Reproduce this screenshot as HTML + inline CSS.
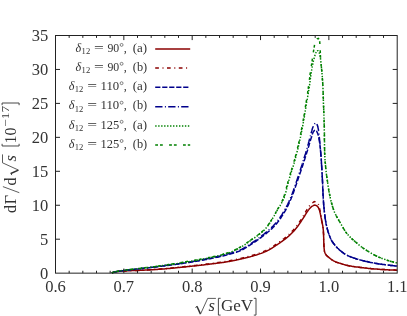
<!DOCTYPE html>
<html><head><meta charset="utf-8"><title>plot</title>
<style>.ls{font-family:"Liberation Serif",serif;}html,body{margin:0;padding:0;background:#fff;}body{width:407px;height:316px;overflow:hidden;position:relative;font-family:"Liberation Serif",serif;}</style>
</head><body>
<svg width="407" height="316" viewBox="0 0 407 316" style="position:absolute;left:0;top:0">
<defs><filter id="gf" x="0" y="0" width="100%" height="100%" filterUnits="userSpaceOnUse"><feOffset dx="0" dy="0"/></filter></defs>
<rect width="407" height="316" fill="#fff"/>
<g fill="none" stroke-width="1.5" stroke-linejoin="round">
<path d="M111.9,273.0 L112.5,272.7 L113.2,272.4 L113.9,272.2 L114.6,272.1 L115.2,271.9 L115.9,271.8 L116.6,271.7 L117.3,271.6 L118.0,271.5 L118.7,271.4 L119.4,271.3 L120.1,271.3 L120.8,271.2 L121.5,271.1 L122.2,271.1 L122.9,271.0 L123.6,271.0 L124.3,271.0 L125.1,270.9 L125.8,270.9 L126.5,270.8 L127.2,270.8 L127.9,270.8 L128.6,270.8 L129.3,270.7 L130.0,270.7 L130.7,270.7 L131.4,270.6 L132.1,270.6 L132.8,270.6 L133.5,270.6 L134.2,270.5 L134.9,270.5 L135.6,270.5 L136.3,270.5 L137.0,270.5 L137.7,270.4 L138.4,270.4 L139.1,270.4 L139.8,270.3 L140.5,270.3 L141.2,270.3 L141.9,270.3 L142.7,270.2 L143.4,270.2 L144.1,270.2 L144.8,270.1 L145.5,270.1 L146.2,270.1 L146.9,270.0 L147.6,270.0 L148.3,269.9 L149.0,269.9 L149.7,269.9 L150.4,269.8 L151.1,269.8 L151.8,269.7 L152.5,269.7 L153.2,269.7 L153.9,269.6 L154.6,269.6 L155.3,269.5 L156.0,269.5 L156.7,269.4 L157.4,269.4 L158.1,269.3 L158.8,269.3 L159.5,269.2 L160.2,269.2 L160.9,269.1 L161.6,269.1 L162.3,269.0 L163.0,269.0 L163.7,268.9 L164.4,268.9 L165.2,268.8 L165.9,268.7 L166.6,268.7 L167.3,268.6 L168.0,268.6 L168.7,268.5 L169.4,268.4 L170.1,268.4 L170.8,268.3 L171.5,268.2 L172.2,268.2 L172.9,268.1 L173.6,268.0 L174.3,268.0 L175.0,267.9 L175.7,267.8 L176.4,267.8 L177.1,267.7 L177.8,267.6 L178.5,267.5 L179.2,267.5 L179.9,267.4 L180.6,267.3 L181.3,267.3 L182.0,267.2 L182.7,267.1 L183.4,267.1 L184.1,267.0 L184.8,266.9 L185.5,266.9 L186.2,266.8 L186.9,266.7 L187.6,266.6 L188.3,266.6 L189.0,266.5 L189.7,266.4 L190.4,266.3 L191.1,266.3 L191.8,266.2 L192.5,266.1 L193.2,266.0 L193.9,266.0 L194.6,265.9 L195.3,265.8 L196.0,265.7 L196.7,265.7 L197.4,265.6 L198.1,265.5 L198.8,265.4 L199.5,265.3 L200.2,265.3 L200.9,265.2 L201.6,265.1 L202.3,265.0 L203.0,264.9 L203.7,264.9 L204.4,264.8 L205.1,264.7 L205.8,264.6 L206.5,264.5 L207.2,264.4 L207.9,264.4 L208.6,264.3 L209.3,264.2 L210.0,264.1 L210.7,264.0 L211.4,263.9 L212.1,263.8 L212.8,263.8 L213.5,263.7 L214.2,263.6 L214.9,263.5 L215.6,263.4 L216.3,263.3 L217.0,263.2 L217.7,263.1 L218.4,263.0 L219.1,262.9 L219.8,262.8 L220.5,262.8 L221.2,262.7 L221.9,262.6 L222.6,262.5 L223.3,262.4 L224.0,262.3 L224.7,262.2 L225.4,262.0 L226.1,261.9 L226.8,261.8 L227.5,261.7 L228.1,261.6 L228.8,261.5 L229.5,261.4 L230.2,261.3 L230.9,261.1 L231.6,261.0 L232.3,260.9 L233.0,260.7 L233.7,260.6 L234.4,260.4 L235.1,260.3 L235.8,260.2 L236.4,260.0 L237.1,259.8 L237.8,259.7 L238.5,259.5 L239.2,259.4 L239.9,259.2 L240.6,259.1 L241.3,258.9 L241.9,258.8 L242.6,258.6 L243.3,258.5 L244.0,258.3 L244.7,258.1 L245.4,258.0 L246.1,257.8 L246.8,257.6 L247.4,257.5 L248.1,257.3 L248.8,257.1 L249.5,256.9 L250.2,256.8 L250.8,256.6 L251.5,256.4 L252.2,256.2 L252.9,256.0 L253.6,255.8 L254.2,255.6 L254.9,255.4 L255.6,255.2 L256.3,255.0 L256.9,254.8 L257.6,254.5 L258.3,254.3 L259.0,254.1 L259.6,253.9 L260.3,253.6 L261.0,253.4 L261.6,253.2 L262.3,252.9 L263.0,252.7 L263.6,252.4 L264.3,252.1 L264.9,251.9 L265.5,251.6 L266.2,251.3 L266.8,251.0 L267.4,250.7 L268.0,250.4 L268.7,250.1 L269.3,249.7 L269.9,249.4 L270.5,249.0 L271.1,248.7 L271.7,248.3 L272.3,247.9 L272.9,247.5 L273.5,247.1 L274.1,246.7 L274.7,246.3 L275.3,245.9 L275.8,245.5 L276.4,245.1 L277.0,244.8 L277.6,244.4 L278.2,244.0 L278.8,243.6 L279.4,243.2 L279.9,242.8 L280.5,242.4 L281.1,242.0 L281.7,241.6 L282.3,241.2 L282.8,240.7 L283.4,240.3 L284.0,239.9 L284.5,239.5 L285.1,239.1 L285.7,238.6 L286.2,238.2 L286.8,237.7 L287.3,237.3 L287.8,236.8 L288.4,236.4 L288.9,235.9 L289.4,235.5 L289.9,235.0 L290.4,234.5 L290.9,234.0 L291.4,233.5 L291.9,233.0 L292.4,232.5 L292.9,232.0 L293.4,231.5 L293.9,230.9 L294.4,230.4 L294.8,229.9 L295.3,229.4 L295.7,228.8 L296.2,228.3 L296.6,227.7 L297.0,227.2 L297.5,226.6 L297.9,226.1 L298.3,225.5 L298.7,224.9 L299.1,224.3 L299.5,223.7 L299.9,223.2 L300.3,222.6 L300.7,222.0 L301.1,221.4 L301.5,220.8 L301.8,220.2 L302.2,219.6 L302.6,219.0 L303.0,218.5 L303.4,217.9 L303.8,217.3 L304.2,216.7 L304.6,216.1 L304.9,215.4 L305.3,214.8 L305.7,214.2 L306.0,213.6 L306.4,213.0 L306.8,212.4 L307.2,211.8 L307.6,211.2 L308.0,210.7 L308.4,210.1 L308.8,209.6 L309.2,209.0 L309.7,208.5 L310.2,208.0 L310.7,207.5 L311.2,207.0 L311.7,206.5 L312.3,206.1 L312.9,205.8 L313.6,205.4 L314.2,205.2 L314.9,205.1 L315.6,205.3 L316.3,205.6 L316.9,205.9 L317.4,206.3 L317.9,206.9 L318.3,207.5 L318.6,208.1 L318.9,208.8 L319.1,209.4 L319.4,210.0 L319.6,210.7 L319.8,211.4 L319.9,212.1 L320.1,212.8 L320.3,213.5 L320.4,214.2 L320.6,214.9 L320.7,215.6 L320.8,216.3 L321.0,217.0 L321.1,217.7 L321.3,218.4 L321.4,219.0 L321.6,219.7 L321.7,220.4 L321.8,221.1 L322.0,221.8 L322.1,222.5 L322.3,223.2 L322.4,223.9 L322.5,224.6 L322.7,225.3 L322.8,226.0 L322.9,226.7 L323.0,227.4 L323.1,228.1 L323.2,228.8 L323.2,229.5 L323.3,230.2 L323.4,230.9 L323.4,231.6 L323.4,232.3 L323.5,233.0 L323.5,233.7 L323.6,234.4 L323.6,235.1 L323.6,235.8 L323.6,236.5 L323.7,237.2 L323.7,237.9 L323.7,238.6 L323.7,239.4 L323.7,240.1 L323.8,240.8 L323.8,241.5 L323.8,242.2 L323.8,242.9 L323.9,243.6 L323.9,244.3 L323.9,245.0 L323.9,245.7 L324.0,246.4 L324.0,247.1 L324.1,247.8 L324.1,248.5 L324.2,249.2 L324.3,249.9 L324.3,250.6 L324.5,251.3 L324.7,252.0 L324.9,252.6 L325.2,253.3 L325.5,253.9 L325.8,254.5 L326.2,255.0 L326.7,255.5 L327.2,256.0 L327.8,256.5 L328.3,257.0 L328.9,257.4 L329.4,257.9 L330.0,258.3 L330.5,258.8 L331.1,259.2 L331.7,259.6 L332.3,260.0 L332.9,260.4 L333.5,260.8 L334.1,261.1 L334.7,261.4 L335.3,261.7 L336.0,262.0 L336.6,262.2 L337.3,262.5 L338.0,262.7 L338.7,262.9 L339.3,263.1 L340.0,263.3 L340.7,263.5 L341.3,263.7 L342.0,264.0 L342.7,264.2 L343.4,264.4 L344.0,264.6 L344.7,264.8 L345.4,265.0 L346.1,265.2 L346.8,265.3 L347.4,265.5 L348.1,265.6 L348.8,265.8 L349.5,265.9 L350.2,266.0 L350.9,266.1 L351.6,266.2 L352.3,266.4 L353.0,266.5 L353.7,266.6 L354.4,266.7 L355.1,266.8 L355.8,266.9 L356.5,267.0 L357.2,267.1 L357.9,267.1 L358.6,267.2 L359.3,267.3 L360.0,267.4 L360.7,267.5 L361.4,267.6 L362.1,267.7 L362.8,267.7 L363.5,267.8 L364.2,267.9 L364.9,268.0 L365.6,268.1 L366.3,268.1 L367.0,268.2 L367.7,268.3 L368.4,268.4 L369.1,268.4 L369.8,268.5 L370.5,268.6 L371.2,268.7 L371.9,268.7 L372.6,268.8 L373.3,268.8 L374.0,268.9 L374.7,269.0 L375.4,269.0 L376.1,269.1 L376.8,269.1 L377.5,269.2 L378.2,269.2 L378.9,269.3 L379.6,269.3 L380.3,269.4 L381.0,269.4 L381.7,269.5 L382.4,269.5 L383.1,269.6 L383.8,269.6 L384.5,269.6 L385.2,269.7 L385.9,269.7 L386.6,269.8 L387.3,269.8 L388.0,269.8 L388.7,269.9 L389.5,269.9 L390.2,269.9 L390.9,270.0 L391.6,270.0 L392.3,270.0 L393.0,270.1 L393.7,270.1 L394.4,270.1 L395.1,270.1 L395.8,270.2 L396.5,270.2 L397.2,270.2" stroke="#8b0000"/>
<path d="M111.9,273.0 L112.6,272.7 L113.2,272.4 L113.9,272.2 L114.6,272.1 L115.3,271.9 L116.0,271.8 L116.7,271.7 L117.4,271.6 L118.1,271.5 L118.8,271.4 L119.5,271.3 L120.3,271.3 L121.0,271.2 L121.7,271.1 L122.4,271.1 L123.1,271.0 L123.8,271.0 L124.5,270.9 L125.3,270.9 L126.0,270.9 L126.7,270.8 L127.4,270.8 L128.1,270.8 L128.8,270.7 L129.5,270.7 L130.3,270.7 L131.0,270.6 L131.7,270.6 L132.4,270.6 L133.1,270.5 L133.8,270.5 L134.5,270.5 L135.3,270.5 L136.0,270.4 L136.7,270.4 L137.4,270.4 L138.1,270.3 L138.8,270.3 L139.5,270.3 L140.3,270.2 L141.0,270.2 L141.7,270.2 L142.4,270.1 L143.1,270.1 L143.8,270.1 L144.5,270.0 L145.3,270.0 L146.0,269.9 L146.7,269.9 L147.4,269.9 L148.1,269.8 L148.8,269.8 L149.5,269.7 L150.3,269.7 L151.0,269.6 L151.7,269.6 L152.4,269.5 L153.1,269.5 L153.8,269.5 L154.5,269.4 L155.3,269.4 L156.0,269.3 L156.7,269.2 L157.4,269.2 L158.1,269.1 L158.8,269.1 L159.5,269.0 L160.3,269.0 L161.0,268.9 L161.7,268.9 L162.4,268.8 L163.1,268.7 L163.8,268.7 L164.5,268.6 L165.2,268.6 L166.0,268.5 L166.7,268.4 L167.4,268.4 L168.1,268.3 L168.8,268.2 L169.5,268.2 L170.2,268.1 L170.9,268.0 L171.6,268.0 L172.4,267.9 L173.1,267.8 L173.8,267.7 L174.5,267.7 L175.2,267.6 L175.9,267.5 L176.6,267.4 L177.3,267.4 L178.1,267.3 L178.8,267.2 L179.5,267.2 L180.2,267.1 L180.9,267.0 L181.6,266.9 L182.3,266.9 L183.0,266.8 L183.7,266.7 L184.5,266.6 L185.2,266.6 L185.9,266.5 L186.6,266.4 L187.3,266.3 L188.0,266.3 L188.7,266.2 L189.4,266.1 L190.1,266.0 L190.9,266.0 L191.6,265.9 L192.3,265.8 L193.0,265.7 L193.7,265.6 L194.4,265.6 L195.1,265.5 L195.8,265.4 L196.5,265.3 L197.3,265.2 L198.0,265.2 L198.7,265.1 L199.4,265.0 L200.1,264.9 L200.8,264.8 L201.5,264.8 L202.2,264.7 L202.9,264.6 L203.7,264.5 L204.4,264.4 L205.1,264.3 L205.8,264.2 L206.5,264.1 L207.2,264.1 L207.9,264.0 L208.6,263.9 L209.3,263.8 L210.0,263.7 L210.7,263.6 L211.5,263.5 L212.2,263.4 L212.9,263.3 L213.6,263.2 L214.3,263.1 L215.0,263.0 L215.7,262.9 L216.4,262.8 L217.1,262.7 L217.8,262.6 L218.5,262.5 L219.3,262.4 L220.0,262.3 L220.7,262.2 L221.4,262.1 L222.1,262.0 L222.8,261.9 L223.5,261.8 L224.2,261.7 L224.9,261.6 L225.6,261.5 L226.3,261.3 L227.0,261.2 L227.7,261.1 L228.4,261.0 L229.1,260.9 L229.8,260.7 L230.5,260.6 L231.2,260.5 L231.9,260.3 L232.6,260.2 L233.3,260.0 L234.0,259.9 L234.7,259.7 L235.4,259.6 L236.1,259.4 L236.8,259.2 L237.5,259.1 L238.2,258.9 L238.9,258.8 L239.6,258.6 L240.3,258.4 L241.0,258.3 L241.7,258.1 L242.4,257.9 L243.1,257.8 L243.8,257.6 L244.5,257.4 L245.2,257.3 L245.9,257.1 L246.6,256.9 L247.3,256.7 L248.0,256.6 L248.7,256.4 L249.3,256.2 L250.0,256.0 L250.7,255.8 L251.4,255.6 L252.1,255.4 L252.8,255.2 L253.5,255.0 L254.2,254.8 L254.8,254.6 L255.5,254.3 L256.2,254.1 L256.9,253.9 L257.6,253.7 L258.3,253.4 L259.0,253.2 L259.6,253.0 L260.3,252.7 L261.0,252.5 L261.6,252.2 L262.3,252.0 L263.0,251.7 L263.6,251.4 L264.3,251.2 L264.9,250.9 L265.6,250.6 L266.2,250.3 L266.9,250.0 L267.5,249.7 L268.1,249.3 L268.7,249.0 L269.4,248.7 L270.0,248.3 L270.6,247.9 L271.2,247.5 L271.8,247.2 L272.4,246.8 L273.0,246.4 L273.6,246.0 L274.2,245.6 L274.8,245.2 L275.4,244.8 L276.0,244.4 L276.6,243.9 L277.2,243.5 L277.8,243.1 L278.4,242.7 L279.0,242.3 L279.5,241.9 L280.1,241.5 L280.7,241.1 L281.3,240.7 L281.9,240.2 L282.5,239.8 L283.0,239.4 L283.6,238.9 L284.2,238.5 L284.7,238.1 L285.3,237.6 L285.8,237.2 L286.4,236.7 L286.9,236.2 L287.5,235.8 L288.0,235.3 L288.5,234.8 L289.1,234.4 L289.6,233.9 L290.1,233.4 L290.6,232.9 L291.1,232.4 L291.6,231.8 L292.1,231.3 L292.6,230.8 L293.1,230.3 L293.6,229.7 L294.0,229.2 L294.5,228.6 L295.0,228.1 L295.4,227.5 L295.9,227.0 L296.3,226.4 L296.7,225.9 L297.2,225.3 L297.6,224.7 L298.0,224.1 L298.4,223.5 L298.8,223.0 L299.2,222.4 L299.6,221.8 L300.0,221.2 L300.4,220.6 L300.8,220.0 L301.2,219.4 L301.6,218.7 L301.9,218.1 L302.3,217.5 L302.7,216.9 L303.1,216.3 L303.5,215.7 L303.8,215.1 L304.2,214.5 L304.5,213.8 L304.9,213.2 L305.2,212.6 L305.6,211.9 L305.9,211.3 L306.3,210.7 L306.7,210.1 L307.0,209.4 L307.4,208.8 L307.8,208.2 L308.1,207.6 L308.5,207.0 L308.9,206.5 L309.4,205.9 L309.8,205.4 L310.3,204.8 L310.8,204.3 L311.3,203.8 L311.8,203.3 L312.4,202.9 L313.0,202.5 L313.6,202.0 L314.3,201.7 L314.9,201.6 L315.6,201.8 L316.3,202.1 L316.9,202.5 L317.4,202.9 L317.9,203.4 L318.3,204.1 L318.6,204.8 L318.9,205.4 L319.1,206.1 L319.3,206.8 L319.4,207.5 L319.6,208.2 L319.7,208.9 L319.8,209.6 L319.9,210.3 L320.0,211.0 L320.2,211.7 L320.3,212.4 L320.4,213.2 L320.5,213.9 L320.6,214.6 L320.8,215.3 L320.9,216.0 L321.0,216.7 L321.1,217.4 L321.2,218.1 L321.4,218.8 L321.5,219.5 L321.6,220.2 L321.7,220.9 L321.9,221.6 L322.0,222.3 L322.2,223.0 L322.3,223.7 L322.4,224.4 L322.6,225.1 L322.7,225.8 L322.8,226.5 L322.9,227.2 L323.0,228.0 L323.1,228.7 L323.2,229.4 L323.3,230.1 L323.3,230.8 L323.4,231.5 L323.4,232.2 L323.5,232.9 L323.5,233.6 L323.6,234.4 L323.6,235.1 L323.6,235.8 L323.6,236.5 L323.7,237.2 L323.7,238.0 L323.7,238.7 L323.7,239.4 L323.7,240.1 L323.8,240.9 L323.8,241.6 L323.8,242.3 L323.8,243.0 L323.9,243.7 L323.9,244.4 L323.9,245.2 L324.0,245.9 L324.0,246.6 L324.0,247.3 L324.1,248.0 L324.1,248.7 L324.2,249.4 L324.3,250.1 L324.4,250.8 L324.5,251.5 L324.7,252.2 L325.0,252.9 L325.3,253.5 L325.6,254.1 L326.0,254.7 L326.4,255.3 L326.9,255.8 L327.5,256.3 L328.0,256.8 L328.6,257.2 L329.1,257.7 L329.7,258.1 L330.3,258.6 L330.8,259.0 L331.4,259.5 L332.0,259.9 L332.6,260.3 L333.2,260.7 L333.8,261.0 L334.5,261.3 L335.1,261.6 L335.7,261.9 L336.4,262.2 L337.1,262.4 L337.8,262.6 L338.5,262.8 L339.2,263.0 L339.8,263.3 L340.5,263.5 L341.2,263.7 L341.9,263.9 L342.6,264.1 L343.3,264.4 L343.9,264.6 L344.6,264.8 L345.3,265.0 L346.0,265.2 L346.7,265.3 L347.4,265.5 L348.1,265.6 L348.8,265.8 L349.5,265.9 L350.2,266.0 L350.9,266.1 L351.6,266.2 L352.3,266.4 L353.0,266.5 L353.7,266.6 L354.4,266.7 L355.1,266.8 L355.8,266.9 L356.6,267.0 L357.3,267.1 L358.0,267.2 L358.7,267.3 L359.4,267.3 L360.1,267.4 L360.8,267.5 L361.5,267.6 L362.3,267.7 L363.0,267.8 L363.7,267.8 L364.4,267.9 L365.1,268.0 L365.8,268.1 L366.5,268.2 L367.2,268.2 L367.9,268.3 L368.6,268.4 L369.4,268.5 L370.1,268.5 L370.8,268.6 L371.5,268.7 L372.2,268.7 L372.9,268.8 L373.6,268.9 L374.3,268.9 L375.1,269.0 L375.8,269.1 L376.5,269.1 L377.2,269.2 L377.9,269.2 L378.6,269.3 L379.3,269.3 L380.1,269.4 L380.8,269.4 L381.5,269.5 L382.2,269.5 L382.9,269.5 L383.6,269.6 L384.3,269.6 L385.0,269.7 L385.8,269.7 L386.5,269.8 L387.2,269.8 L387.9,269.8 L388.6,269.9 L389.3,269.9 L390.0,269.9 L390.8,270.0 L391.5,270.0 L392.2,270.0 L392.9,270.1 L393.6,270.1 L394.3,270.1 L395.1,270.1 L395.8,270.2 L396.5,270.2 L397.2,270.2" stroke="#8b0000" stroke-dasharray="3.7 3.6 1 3.5"/>
<path d="M111.9,273.0 L112.7,272.6 L113.6,272.2 L114.5,272.0 L115.4,271.8 L116.3,271.7 L117.2,271.5 L118.2,271.4 L119.1,271.2 L120.0,271.1 L120.9,271.0 L121.8,270.8 L122.8,270.7 L123.7,270.6 L124.6,270.5 L125.5,270.4 L126.4,270.2 L127.4,270.1 L128.3,270.0 L129.2,269.9 L130.1,269.8 L131.1,269.7 L132.0,269.6 L132.9,269.5 L133.8,269.4 L134.8,269.3 L135.7,269.2 L136.6,269.1 L137.5,269.0 L138.5,268.9 L139.4,268.8 L140.3,268.7 L141.2,268.6 L142.2,268.5 L143.1,268.4 L144.0,268.3 L144.9,268.2 L145.8,268.1 L146.8,268.0 L147.7,267.9 L148.6,267.8 L149.5,267.7 L150.5,267.6 L151.4,267.4 L152.3,267.3 L153.2,267.2 L154.2,267.1 L155.1,267.0 L156.0,266.9 L156.9,266.8 L157.8,266.7 L158.8,266.6 L159.7,266.4 L160.6,266.3 L161.5,266.2 L162.5,266.1 L163.4,266.0 L164.3,265.9 L165.2,265.8 L166.1,265.6 L167.1,265.5 L168.0,265.4 L168.9,265.3 L169.8,265.2 L170.8,265.1 L171.7,264.9 L172.6,264.8 L173.5,264.7 L174.4,264.6 L175.4,264.5 L176.3,264.3 L177.2,264.2 L178.1,264.1 L179.0,263.9 L180.0,263.8 L180.9,263.7 L181.8,263.5 L182.7,263.4 L183.6,263.3 L184.6,263.1 L185.5,263.0 L186.4,262.8 L187.3,262.7 L188.2,262.5 L189.2,262.4 L190.1,262.3 L191.0,262.1 L191.9,262.0 L192.8,261.8 L193.7,261.7 L194.7,261.5 L195.6,261.3 L196.5,261.2 L197.4,261.0 L198.3,260.9 L199.2,260.7 L200.2,260.5 L201.1,260.4 L202.0,260.2 L202.9,260.1 L203.8,259.9 L204.7,259.7 L205.6,259.5 L206.6,259.4 L207.5,259.2 L208.4,259.0 L209.3,258.8 L210.2,258.7 L211.1,258.5 L212.0,258.3 L212.9,258.1 L213.9,257.9 L214.8,257.7 L215.7,257.5 L216.6,257.3 L217.5,257.2 L218.4,257.0 L219.3,256.8 L220.2,256.5 L221.1,256.3 L222.0,256.1 L222.9,255.9 L223.8,255.7 L224.7,255.5 L225.6,255.2 L226.5,255.0 L227.4,254.8 L228.3,254.6 L229.2,254.3 L230.1,254.1 L231.0,253.8 L231.9,253.6 L232.8,253.3 L233.7,253.0 L234.6,252.8 L235.5,252.5 L236.4,252.2 L237.3,251.9 L238.1,251.5 L239.0,251.2 L239.8,250.9 L240.7,250.5 L241.5,250.1 L242.3,249.7 L243.2,249.3 L244.0,248.8 L244.8,248.3 L245.6,247.9 L246.4,247.4 L247.2,246.9 L248.0,246.4 L248.8,245.9 L249.6,245.4 L250.3,244.9 L251.1,244.4 L251.9,243.9 L252.7,243.4 L253.5,242.9 L254.2,242.3 L255.0,241.8 L255.8,241.3 L256.5,240.8 L257.3,240.2 L258.1,239.7 L258.8,239.1 L259.6,238.6 L260.3,238.0 L261.1,237.5 L261.8,236.9 L262.5,236.3 L263.3,235.8 L264.0,235.2 L264.7,234.6 L265.4,234.0 L266.2,233.5 L266.9,232.9 L267.6,232.3 L268.3,231.7 L269.1,231.1 L269.8,230.5 L270.5,229.9 L271.2,229.2 L271.9,228.6 L272.5,228.0 L273.2,227.3 L273.8,226.7 L274.5,226.0 L275.1,225.3 L275.7,224.6 L276.3,223.9 L276.9,223.2 L277.4,222.5 L278.0,221.8 L278.6,221.0 L279.1,220.3 L279.7,219.5 L280.2,218.7 L280.8,218.0 L281.3,217.2 L281.8,216.4 L282.3,215.6 L282.8,214.8 L283.3,214.0 L283.8,213.2 L284.3,212.4 L284.7,211.6 L285.2,210.8 L285.7,210.0 L286.1,209.2 L286.5,208.4 L287.0,207.6 L287.4,206.7 L287.8,205.9 L288.2,205.1 L288.6,204.2 L289.0,203.4 L289.4,202.5 L289.8,201.7 L290.1,200.8 L290.5,200.0 L290.9,199.1 L291.2,198.3 L291.6,197.4 L291.9,196.5 L292.3,195.7 L292.6,194.8 L292.9,193.9 L293.3,193.1 L293.6,192.2 L293.9,191.3 L294.2,190.4 L294.5,189.6 L294.8,188.7 L295.1,187.8 L295.4,186.9 L295.7,186.1 L296.0,185.2 L296.3,184.3 L296.6,183.4 L296.9,182.5 L297.2,181.7 L297.5,180.8 L297.8,179.9 L298.1,179.0 L298.4,178.1 L298.7,177.2 L299.0,176.4 L299.3,175.5 L299.6,174.6 L299.9,173.7 L300.2,172.8 L300.5,172.0 L300.8,171.1 L301.1,170.2 L301.4,169.3 L301.7,168.4 L302.0,167.6 L302.3,166.7 L302.6,165.8 L302.9,164.9 L303.1,164.0 L303.4,163.1 L303.7,162.3 L304.0,161.4 L304.3,160.5 L304.6,159.6 L304.9,158.7 L305.1,157.8 L305.4,157.0 L305.7,156.1 L306.0,155.2 L306.3,154.3 L306.5,153.4 L306.8,152.5 L307.1,151.6 L307.4,150.7 L307.6,149.9 L307.9,149.0 L308.2,148.1 L308.4,147.2 L308.7,146.3 L309.0,145.4 L309.2,144.5 L309.5,143.6 L309.7,142.7 L310.0,141.8 L310.3,140.9 L310.5,140.1 L310.8,139.2 L311.1,138.3 L311.4,137.4 L311.7,136.5 L311.9,135.6 L312.2,134.6 L312.5,133.8 L312.8,132.9 L313.2,132.1 L313.8,131.3 L314.4,130.4 L315.1,130.0 L315.8,130.3 L316.5,131.0 L317.0,132.0 L317.4,132.8 L317.7,133.6 L318.0,134.5 L318.3,135.4 L318.5,136.3 L318.7,137.3 L318.9,138.2 L319.0,139.1 L319.2,140.0 L319.3,140.9 L319.5,141.9 L319.6,142.8 L319.7,143.7 L319.9,144.6 L320.0,145.5 L320.1,146.5 L320.2,147.4 L320.3,148.3 L320.4,149.3 L320.5,150.2 L320.6,151.1 L320.7,152.0 L320.7,153.0 L320.8,153.9 L320.9,154.8 L321.0,155.7 L321.0,156.7 L321.1,157.6 L321.2,158.5 L321.3,159.4 L321.3,160.4 L321.4,161.3 L321.4,162.2 L321.5,163.1 L321.6,164.1 L321.6,165.0 L321.7,165.9 L321.7,166.9 L321.8,167.8 L321.8,168.7 L321.9,169.6 L321.9,170.6 L322.0,171.5 L322.0,172.4 L322.1,173.4 L322.1,174.3 L322.2,175.2 L322.2,176.1 L322.3,177.1 L322.3,178.0 L322.4,178.9 L322.4,179.9 L322.5,180.8 L322.5,181.7 L322.6,182.6 L322.6,183.6 L322.6,184.5 L322.7,185.4 L322.7,186.4 L322.7,187.3 L322.8,188.2 L322.8,189.1 L322.9,190.1 L322.9,191.0 L322.9,191.9 L323.0,192.9 L323.0,193.8 L323.1,194.7 L323.1,195.6 L323.2,196.6 L323.2,197.5 L323.3,198.4 L323.3,199.4 L323.4,200.3 L323.4,201.2 L323.5,202.1 L323.6,203.1 L323.6,204.0 L323.7,204.9 L323.8,205.8 L323.9,206.8 L324.0,207.7 L324.1,208.6 L324.1,209.6 L324.2,210.5 L324.3,211.4 L324.4,212.3 L324.5,213.3 L324.7,214.2 L324.8,215.1 L324.9,216.0 L325.0,216.9 L325.1,217.9 L325.3,218.8 L325.4,219.7 L325.5,220.6 L325.7,221.5 L325.9,222.4 L326.0,223.4 L326.2,224.3 L326.4,225.2 L326.6,226.1 L326.8,227.0 L327.1,227.9 L327.3,228.8 L327.5,229.7 L327.8,230.6 L328.0,231.5 L328.3,232.4 L328.6,233.3 L328.9,234.1 L329.2,235.0 L329.6,235.9 L329.9,236.7 L330.2,237.6 L330.6,238.5 L331.0,239.3 L331.4,240.2 L331.9,240.9 L332.3,241.7 L332.9,242.5 L333.4,243.3 L334.0,244.0 L334.6,244.8 L335.2,245.5 L335.8,246.2 L336.4,246.9 L337.1,247.6 L337.7,248.2 L338.4,248.8 L339.0,249.5 L339.7,250.1 L340.4,250.7 L341.2,251.3 L341.9,251.9 L342.7,252.5 L343.4,253.1 L344.2,253.6 L345.0,254.1 L345.8,254.6 L346.6,255.0 L347.4,255.4 L348.2,255.8 L349.0,256.2 L349.9,256.5 L350.7,256.9 L351.6,257.2 L352.4,257.5 L353.3,257.8 L354.2,258.1 L355.1,258.4 L356.0,258.7 L356.9,259.0 L357.8,259.2 L358.7,259.5 L359.6,259.7 L360.5,260.0 L361.5,260.2 L362.4,260.5 L363.3,260.7 L364.2,260.9 L365.1,261.1 L366.0,261.4 L366.9,261.6 L367.8,261.8 L368.7,262.0 L369.6,262.2 L370.5,262.4 L371.4,262.6 L372.3,262.7 L373.2,262.9 L374.2,263.1 L375.1,263.3 L376.0,263.4 L376.9,263.6 L377.8,263.7 L378.7,263.9 L379.7,264.0 L380.6,264.1 L381.5,264.3 L382.4,264.4 L383.3,264.5 L384.2,264.6 L385.2,264.8 L386.1,264.9 L387.0,265.0 L387.9,265.1 L388.9,265.2 L389.8,265.3 L390.7,265.4 L391.6,265.5 L392.6,265.6 L393.5,265.7 L394.4,265.8 L395.3,265.9 L396.3,265.9 L397.2,266.0" stroke="#00008b" stroke-dasharray="5.2 1.8"/>
<path d="M111.9,273.0 L112.8,272.6 L113.6,272.2 L114.6,272.0 L115.5,271.7 L116.4,271.6 L117.4,271.4 L118.3,271.2 L119.3,271.1 L120.2,271.0 L121.1,270.8 L122.1,270.7 L123.0,270.6 L124.0,270.5 L124.9,270.3 L125.9,270.2 L126.8,270.1 L127.8,270.0 L128.7,269.9 L129.7,269.8 L130.6,269.7 L131.6,269.6 L132.5,269.5 L133.5,269.4 L134.4,269.3 L135.4,269.2 L136.3,269.1 L137.3,269.0 L138.2,268.9 L139.2,268.8 L140.1,268.7 L141.1,268.6 L142.0,268.5 L143.0,268.3 L143.9,268.2 L144.9,268.1 L145.8,268.0 L146.8,267.9 L147.7,267.8 L148.6,267.7 L149.6,267.5 L150.5,267.4 L151.5,267.3 L152.4,267.2 L153.4,267.1 L154.3,266.9 L155.3,266.8 L156.2,266.7 L157.2,266.6 L158.1,266.4 L159.1,266.3 L160.0,266.2 L161.0,266.1 L161.9,266.0 L162.8,265.8 L163.8,265.7 L164.7,265.6 L165.7,265.5 L166.6,265.3 L167.6,265.2 L168.5,265.1 L169.5,265.0 L170.4,264.8 L171.4,264.7 L172.3,264.6 L173.3,264.5 L174.2,264.3 L175.2,264.2 L176.1,264.1 L177.0,263.9 L178.0,263.8 L178.9,263.7 L179.9,263.5 L180.8,263.4 L181.8,263.2 L182.7,263.1 L183.6,262.9 L184.6,262.8 L185.5,262.6 L186.5,262.5 L187.4,262.3 L188.4,262.2 L189.3,262.0 L190.2,261.9 L191.2,261.7 L192.1,261.5 L193.1,261.4 L194.0,261.2 L195.0,261.1 L195.9,260.9 L196.8,260.7 L197.8,260.6 L198.7,260.4 L199.7,260.2 L200.6,260.0 L201.5,259.9 L202.5,259.7 L203.4,259.5 L204.3,259.3 L205.3,259.1 L206.2,259.0 L207.2,258.8 L208.1,258.6 L209.0,258.4 L210.0,258.2 L210.9,258.0 L211.8,257.8 L212.8,257.6 L213.7,257.4 L214.6,257.2 L215.6,257.0 L216.5,256.8 L217.4,256.6 L218.4,256.4 L219.3,256.2 L220.2,256.0 L221.1,255.7 L222.1,255.5 L223.0,255.3 L223.9,255.0 L224.9,254.8 L225.8,254.6 L226.7,254.3 L227.6,254.1 L228.5,253.8 L229.5,253.6 L230.4,253.3 L231.3,253.0 L232.2,252.8 L233.1,252.5 L234.0,252.2 L235.0,251.9 L235.9,251.6 L236.8,251.3 L237.7,250.9 L238.6,250.6 L239.4,250.2 L240.3,249.9 L241.2,249.5 L242.0,249.1 L242.8,248.6 L243.7,248.1 L244.5,247.7 L245.3,247.2 L246.2,246.7 L247.0,246.2 L247.8,245.6 L248.6,245.1 L249.4,244.6 L250.2,244.1 L251.0,243.6 L251.8,243.0 L252.6,242.5 L253.4,242.0 L254.1,241.4 L254.9,240.9 L255.7,240.3 L256.5,239.8 L257.3,239.2 L258.0,238.6 L258.8,238.1 L259.6,237.5 L260.3,236.9 L261.1,236.3 L261.8,235.7 L262.6,235.2 L263.3,234.6 L264.1,234.0 L264.8,233.4 L265.5,232.7 L266.3,232.1 L267.0,231.5 L267.7,230.9 L268.5,230.3 L269.2,229.6 L269.9,229.0 L270.6,228.3 L271.3,227.7 L272.0,227.0 L272.7,226.4 L273.4,225.7 L274.0,225.0 L274.7,224.3 L275.3,223.6 L275.9,222.9 L276.5,222.1 L277.1,221.4 L277.7,220.7 L278.2,219.9 L278.8,219.1 L279.4,218.3 L279.9,217.6 L280.5,216.8 L281.0,216.0 L281.6,215.2 L282.1,214.4 L282.6,213.5 L283.1,212.7 L283.6,211.9 L284.1,211.1 L284.6,210.3 L285.0,209.4 L285.5,208.6 L286.0,207.8 L286.4,206.9 L286.8,206.1 L287.3,205.2 L287.7,204.4 L288.1,203.5 L288.5,202.6 L288.9,201.8 L289.3,200.9 L289.6,200.0 L290.0,199.1 L290.4,198.2 L290.8,197.4 L291.1,196.5 L291.5,195.6 L291.8,194.7 L292.2,193.8 L292.5,192.9 L292.8,192.0 L293.2,191.1 L293.5,190.2 L293.8,189.3 L294.1,188.4 L294.5,187.5 L294.8,186.6 L295.1,185.7 L295.4,184.8 L295.7,183.9 L296.0,183.0 L296.3,182.1 L296.6,181.2 L296.9,180.3 L297.2,179.4 L297.5,178.5 L297.8,177.6 L298.1,176.7 L298.4,175.8 L298.7,174.8 L299.0,173.9 L299.3,173.0 L299.6,172.1 L299.9,171.2 L300.2,170.3 L300.5,169.4 L300.8,168.5 L301.1,167.6 L301.4,166.7 L301.7,165.8 L302.0,164.9 L302.2,164.0 L302.5,163.1 L302.8,162.2 L303.1,161.2 L303.4,160.3 L303.7,159.4 L304.0,158.5 L304.3,157.6 L304.5,156.7 L304.8,155.8 L305.1,154.9 L305.4,154.0 L305.7,153.0 L305.9,152.1 L306.2,151.2 L306.5,150.3 L306.8,149.4 L307.0,148.5 L307.3,147.5 L307.5,146.6 L307.8,145.7 L308.0,144.8 L308.3,143.9 L308.5,142.9 L308.8,142.0 L309.0,141.1 L309.2,140.2 L309.5,139.2 L309.7,138.3 L310.0,137.4 L310.2,136.5 L310.5,135.5 L310.7,134.6 L311.0,133.7 L311.3,132.8 L311.5,131.9 L311.8,130.9 L312.0,130.0 L312.3,129.1 L312.6,128.1 L312.9,127.2 L313.3,126.4 L313.7,125.5 L314.2,124.6 L314.8,123.7 L315.5,123.1 L316.0,123.1 L316.6,123.8 L317.2,124.9 L317.6,125.9 L317.8,126.8 L318.0,127.6 L318.2,128.6 L318.4,129.5 L318.5,130.4 L318.7,131.4 L318.8,132.3 L318.9,133.3 L319.0,134.3 L319.1,135.3 L319.2,136.2 L319.3,137.2 L319.4,138.1 L319.5,139.1 L319.6,140.0 L319.7,141.0 L319.8,141.9 L319.9,142.9 L320.0,143.8 L320.1,144.8 L320.2,145.7 L320.2,146.7 L320.3,147.6 L320.4,148.6 L320.5,149.6 L320.5,150.5 L320.6,151.5 L320.7,152.4 L320.8,153.4 L320.8,154.3 L320.9,155.3 L321.0,156.2 L321.0,157.2 L321.1,158.1 L321.2,159.1 L321.2,160.0 L321.3,161.0 L321.4,161.9 L321.4,162.9 L321.5,163.8 L321.6,164.8 L321.6,165.7 L321.7,166.7 L321.7,167.6 L321.8,168.6 L321.9,169.6 L321.9,170.5 L322.0,171.5 L322.0,172.4 L322.1,173.4 L322.1,174.3 L322.2,175.3 L322.2,176.2 L322.3,177.2 L322.3,178.1 L322.4,179.1 L322.4,180.0 L322.5,181.0 L322.5,181.9 L322.6,182.9 L322.6,183.9 L322.6,184.8 L322.7,185.8 L322.7,186.7 L322.8,187.7 L322.8,188.6 L322.8,189.6 L322.9,190.5 L322.9,191.5 L323.0,192.4 L323.0,193.4 L323.0,194.3 L323.1,195.3 L323.1,196.3 L323.2,197.2 L323.2,198.2 L323.3,199.1 L323.4,200.1 L323.4,201.0 L323.5,202.0 L323.6,202.9 L323.6,203.9 L323.7,204.8 L323.8,205.8 L323.9,206.7 L324.0,207.7 L324.1,208.6 L324.1,209.6 L324.2,210.5 L324.3,211.5 L324.5,212.4 L324.6,213.4 L324.7,214.3 L324.8,215.3 L324.9,216.2 L325.0,217.2 L325.2,218.1 L325.3,219.1 L325.4,220.0 L325.6,220.9 L325.8,221.9 L325.9,222.8 L326.1,223.8 L326.3,224.7 L326.5,225.6 L326.7,226.6 L327.0,227.5 L327.2,228.4 L327.4,229.3 L327.7,230.3 L327.9,231.2 L328.2,232.1 L328.5,233.0 L328.8,233.9 L329.2,234.8 L329.5,235.7 L329.8,236.6 L330.2,237.5 L330.6,238.4 L330.9,239.2 L331.4,240.1 L331.8,240.9 L332.3,241.7 L332.9,242.5 L333.4,243.3 L334.0,244.1 L334.6,244.8 L335.2,245.6 L335.9,246.3 L336.5,247.0 L337.2,247.7 L337.8,248.3 L338.5,249.0 L339.2,249.6 L339.9,250.3 L340.7,250.9 L341.4,251.5 L342.2,252.1 L343.0,252.7 L343.8,253.3 L344.6,253.8 L345.4,254.3 L346.2,254.8 L347.0,255.3 L347.8,255.7 L348.7,256.0 L349.5,256.4 L350.4,256.8 L351.3,257.1 L352.2,257.4 L353.1,257.8 L354.0,258.1 L354.9,258.4 L355.8,258.7 L356.8,258.9 L357.7,259.2 L358.6,259.5 L359.6,259.7 L360.5,260.0 L361.4,260.2 L362.4,260.5 L363.3,260.7 L364.2,260.9 L365.1,261.2 L366.1,261.4 L367.0,261.6 L367.9,261.8 L368.8,262.0 L369.8,262.2 L370.7,262.4 L371.7,262.6 L372.6,262.8 L373.5,263.0 L374.5,263.1 L375.4,263.3 L376.4,263.5 L377.3,263.6 L378.2,263.8 L379.2,263.9 L380.1,264.1 L381.1,264.2 L382.0,264.3 L383.0,264.5 L383.9,264.6 L384.8,264.7 L385.8,264.8 L386.7,265.0 L387.7,265.1 L388.6,265.2 L389.6,265.3 L390.5,265.4 L391.5,265.5 L392.4,265.6 L393.4,265.7 L394.3,265.8 L395.3,265.9 L396.2,265.9 L397.2,266.0" stroke="#00008b" stroke-dasharray="7.3 2.4 1 2.3"/>
<path d="M111.9,273.0 L113.0,272.4 L114.1,272.0 L115.2,271.7 L116.4,271.5 L117.6,271.3 L118.8,271.1 L120.0,270.9 L121.1,270.7 L122.3,270.5 L123.5,270.3 L124.7,270.2 L125.9,270.0 L127.1,269.8 L128.3,269.7 L129.5,269.6 L130.6,269.4 L131.8,269.3 L133.0,269.2 L134.2,269.0 L135.4,268.9 L136.6,268.8 L137.8,268.6 L139.0,268.5 L140.2,268.4 L141.4,268.2 L142.6,268.1 L143.7,267.9 L144.9,267.8 L146.1,267.7 L147.3,267.5 L148.5,267.4 L149.7,267.2 L150.9,267.1 L152.1,266.9 L153.3,266.8 L154.4,266.6 L155.6,266.5 L156.8,266.3 L158.0,266.2 L159.2,266.0 L160.4,265.8 L161.6,265.7 L162.8,265.5 L164.0,265.4 L165.1,265.2 L166.3,265.1 L167.5,264.9 L168.7,264.7 L169.9,264.6 L171.1,264.4 L172.3,264.2 L173.5,264.1 L174.6,263.9 L175.8,263.7 L177.0,263.6 L178.2,263.4 L179.4,263.2 L180.6,263.0 L181.8,262.8 L182.9,262.6 L184.1,262.4 L185.3,262.3 L186.5,262.1 L187.7,261.9 L188.9,261.7 L190.0,261.5 L191.2,261.3 L192.4,261.1 L193.6,260.9 L194.8,260.7 L195.9,260.5 L197.1,260.2 L198.3,260.0 L199.5,259.8 L200.7,259.6 L201.8,259.4 L203.0,259.1 L204.2,258.9 L205.4,258.7 L206.5,258.4 L207.7,258.2 L208.9,257.9 L210.1,257.7 L211.2,257.4 L212.4,257.2 L213.6,256.9 L214.7,256.6 L215.9,256.4 L217.1,256.1 L218.3,255.8 L219.4,255.5 L220.6,255.2 L221.8,254.9 L222.9,254.6 L224.1,254.3 L225.2,254.0 L226.4,253.6 L227.5,253.2 L228.6,252.9 L229.8,252.5 L230.9,252.1 L232.0,251.6 L233.1,251.2 L234.2,250.7 L235.3,250.1 L236.3,249.6 L237.4,249.0 L238.5,248.5 L239.5,247.9 L240.5,247.3 L241.6,246.7 L242.6,246.1 L243.6,245.4 L244.6,244.8 L245.6,244.1 L246.6,243.4 L247.6,242.7 L248.6,242.0 L249.5,241.3 L250.5,240.6 L251.5,239.9 L252.5,239.2 L253.5,238.6 L254.5,237.9 L255.4,237.2 L256.4,236.5 L257.4,235.7 L258.4,235.0 L259.3,234.3 L260.3,233.5 L261.2,232.8 L262.1,232.0 L263.0,231.2 L263.9,230.4 L264.7,229.6 L265.5,228.7 L266.3,227.8 L267.1,226.9 L267.8,225.9 L268.5,224.9 L269.1,223.9 L269.8,223.0 L270.4,221.9 L271.1,220.9 L271.7,219.9 L272.3,218.9 L272.9,217.8 L273.5,216.8 L274.1,215.8 L274.7,214.7 L275.3,213.7 L275.9,212.6 L276.5,211.6 L277.1,210.5 L277.7,209.5 L278.3,208.5 L278.9,207.4 L279.6,206.4 L280.2,205.4 L280.8,204.3 L281.4,203.3 L282.0,202.2 L282.5,201.2 L283.0,200.1 L283.5,199.0 L284.0,197.9 L284.4,196.8 L284.7,195.7 L285.1,194.6 L285.5,193.4 L285.8,192.3 L286.1,191.1 L286.4,189.9 L286.7,188.8 L287.0,187.6 L287.3,186.4 L287.6,185.3 L287.9,184.1 L288.2,182.9 L288.5,181.8 L288.8,180.6 L289.1,179.4 L289.4,178.3 L289.8,177.1 L290.1,176.0 L290.5,174.8 L290.8,173.7 L291.2,172.5 L291.5,171.4 L291.9,170.3 L292.3,169.1 L292.6,168.0 L293.0,166.8 L293.3,165.7 L293.6,164.5 L294.0,163.4 L294.3,162.2 L294.6,161.1 L295.0,159.9 L295.3,158.8 L295.6,157.6 L295.9,156.4 L296.2,155.3 L296.5,154.1 L296.8,153.0 L297.1,151.8 L297.4,150.6 L297.7,149.5 L298.0,148.3 L298.3,147.2 L298.5,146.0 L298.8,144.8 L299.1,143.6 L299.3,142.5 L299.6,141.3 L299.8,140.1 L300.1,139.0 L300.3,137.8 L300.6,136.6 L300.8,135.4 L301.1,134.3 L301.3,133.1 L301.5,131.9 L301.8,130.7 L302.0,129.6 L302.2,128.4 L302.5,127.2 L302.7,126.0 L302.9,124.9 L303.1,123.7 L303.3,122.5 L303.6,121.3 L303.8,120.1 L304.0,119.0 L304.2,117.8 L304.4,116.6 L304.5,115.4 L304.7,114.2 L304.9,113.0 L305.1,111.9 L305.3,110.7 L305.5,109.5 L305.7,108.3 L305.9,107.1 L306.0,105.9 L306.2,104.8 L306.4,103.6 L306.6,102.4 L306.8,101.2 L307.0,100.0 L307.3,98.9 L307.5,97.7 L307.7,96.5 L307.9,95.3 L308.1,94.1 L308.3,93.0 L308.5,91.8 L308.7,90.6 L308.9,89.4 L309.1,88.2 L309.3,87.0 L309.5,85.9 L309.6,84.7 L309.8,83.5 L309.9,82.3 L310.1,81.1 L310.2,79.9 L310.4,78.7 L310.5,77.5 L310.7,76.3 L310.9,75.2 L311.0,74.0 L311.2,72.8 L311.4,71.6 L311.6,70.4 L311.8,69.2 L312.0,68.1 L312.2,66.9 L312.4,65.7 L312.7,64.5 L312.9,63.3 L313.1,62.2 L313.4,61.0 L313.7,59.8 L314.0,58.7 L314.3,57.5 L314.6,56.3 L315.0,55.2 L315.4,54.1 L315.8,53.0 L316.5,51.7 L317.2,50.7 L318.0,50.7 L318.9,51.7 L319.3,52.8 L319.6,53.9 L319.9,55.1 L320.1,56.3 L320.3,57.5 L320.5,58.7 L320.7,59.9 L320.8,61.1 L320.9,62.3 L321.1,63.5 L321.2,64.7 L321.3,65.9 L321.4,67.1 L321.5,68.3 L321.6,69.5 L321.8,70.7 L321.9,71.8 L322.0,73.0 L322.1,74.2 L322.2,75.4 L322.3,76.6 L322.4,77.8 L322.4,79.0 L322.5,80.2 L322.6,81.4 L322.7,82.6 L322.8,83.8 L322.8,85.0 L322.9,86.2 L322.9,87.4 L323.0,88.6 L323.0,89.8 L323.1,91.0 L323.1,92.2 L323.2,93.4 L323.2,94.6 L323.2,95.8 L323.3,97.0 L323.3,98.2 L323.3,99.4 L323.4,100.6 L323.4,101.8 L323.4,103.0 L323.5,104.2 L323.5,105.4 L323.6,106.6 L323.6,107.7 L323.7,108.9 L323.7,110.1 L323.8,111.3 L323.8,112.5 L323.9,113.7 L323.9,114.9 L323.9,116.1 L324.0,117.3 L324.0,118.5 L324.1,119.7 L324.1,120.9 L324.2,122.1 L324.2,123.3 L324.2,124.5 L324.3,125.7 L324.3,126.9 L324.3,128.1 L324.3,129.3 L324.3,130.5 L324.4,131.7 L324.4,132.9 L324.4,134.1 L324.4,135.3 L324.4,136.5 L324.4,137.7 L324.4,138.9 L324.4,140.1 L324.5,141.3 L324.5,142.5 L324.5,143.7 L324.5,144.9 L324.5,146.1 L324.5,147.3 L324.5,148.5 L324.6,149.7 L324.6,150.9 L324.6,152.1 L324.7,153.3 L324.7,154.5 L324.8,155.7 L324.8,156.9 L324.9,158.1 L325.0,159.3 L325.1,160.5 L325.2,161.7 L325.3,162.8 L325.4,164.0 L325.5,165.2 L325.6,166.4 L325.7,167.6 L325.8,168.8 L325.9,170.0 L326.1,171.2 L326.2,172.4 L326.3,173.6 L326.5,174.8 L326.7,176.0 L326.8,177.1 L327.0,178.3 L327.2,179.5 L327.4,180.7 L327.5,181.9 L327.7,183.1 L327.9,184.3 L328.1,185.4 L328.2,186.6 L328.4,187.8 L328.6,189.0 L328.8,190.2 L329.0,191.4 L329.2,192.6 L329.4,193.7 L329.7,194.9 L329.9,196.1 L330.1,197.3 L330.4,198.4 L330.7,199.6 L330.9,200.8 L331.2,201.9 L331.5,203.1 L331.9,204.3 L332.2,205.4 L332.5,206.6 L332.9,207.7 L333.3,208.8 L333.7,210.0 L334.1,211.1 L334.5,212.2 L335.0,213.3 L335.5,214.3 L336.1,215.4 L336.7,216.5 L337.2,217.5 L337.8,218.6 L338.4,219.6 L339.0,220.7 L339.6,221.7 L340.2,222.7 L340.8,223.8 L341.4,224.8 L342.0,225.9 L342.6,226.9 L343.2,228.0 L343.9,229.0 L344.5,230.0 L345.1,231.1 L345.8,232.0 L346.5,233.0 L347.2,233.9 L348.0,234.8 L348.7,235.7 L349.6,236.6 L350.4,237.4 L351.3,238.3 L352.2,239.1 L353.1,239.9 L354.0,240.7 L354.9,241.4 L355.9,242.2 L356.8,243.0 L357.7,243.8 L358.6,244.6 L359.5,245.3 L360.5,246.1 L361.4,246.8 L362.4,247.5 L363.3,248.2 L364.3,248.9 L365.3,249.6 L366.3,250.2 L367.3,250.9 L368.4,251.5 L369.4,252.2 L370.4,252.8 L371.5,253.4 L372.5,254.0 L373.6,254.6 L374.6,255.2 L375.7,255.7 L376.8,256.2 L377.8,256.7 L378.9,257.2 L380.0,257.6 L381.1,258.1 L382.2,258.5 L383.3,258.9 L384.5,259.3 L385.6,259.7 L386.7,260.1 L387.9,260.5 L389.0,260.9 L390.2,261.2 L391.3,261.6 L392.5,261.9 L393.6,262.2 L394.8,262.5 L396.0,262.7 L397.2,263.0" stroke="#008000" stroke-dasharray="1.4 1.57"/>
<path d="M111.9,273.0 L113.0,272.4 L114.2,272.0 L115.4,271.7 L116.6,271.4 L117.8,271.2 L119.1,271.0 L120.3,270.8 L121.5,270.6 L122.7,270.4 L124.0,270.2 L125.2,270.1 L126.4,269.9 L127.7,269.8 L128.9,269.6 L130.2,269.5 L131.4,269.3 L132.6,269.2 L133.9,269.1 L135.1,268.9 L136.4,268.8 L137.6,268.7 L138.8,268.5 L140.1,268.4 L141.3,268.2 L142.5,268.1 L143.8,267.9 L145.0,267.8 L146.3,267.6 L147.5,267.5 L148.7,267.3 L150.0,267.2 L151.2,267.0 L152.4,266.9 L153.7,266.7 L154.9,266.6 L156.2,266.4 L157.4,266.3 L158.6,266.1 L159.9,265.9 L161.1,265.7 L162.3,265.6 L163.6,265.4 L164.8,265.2 L166.0,265.0 L167.3,264.8 L168.5,264.6 L169.7,264.4 L170.9,264.2 L172.2,264.0 L173.4,263.8 L174.6,263.6 L175.9,263.4 L177.1,263.2 L178.3,263.0 L179.5,262.8 L180.8,262.6 L182.0,262.4 L183.2,262.2 L184.5,262.0 L185.7,261.7 L186.9,261.5 L188.2,261.3 L189.4,261.1 L190.6,260.9 L191.8,260.7 L193.1,260.5 L194.3,260.3 L195.5,260.1 L196.8,259.9 L198.0,259.7 L199.2,259.4 L200.4,259.2 L201.7,259.0 L202.9,258.7 L204.1,258.5 L205.3,258.3 L206.6,258.0 L207.8,257.8 L209.0,257.5 L210.2,257.3 L211.4,257.0 L212.6,256.7 L213.9,256.4 L215.1,256.2 L216.3,255.9 L217.5,255.6 L218.7,255.3 L220.0,255.0 L221.2,254.7 L222.4,254.4 L223.6,254.0 L224.8,253.7 L226.0,253.3 L227.2,253.0 L228.3,252.6 L229.5,252.2 L230.7,251.8 L231.8,251.3 L233.0,250.8 L234.1,250.3 L235.2,249.7 L236.3,249.2 L237.4,248.6 L238.5,248.0 L239.6,247.4 L240.7,246.8 L241.8,246.2 L242.8,245.5 L243.9,244.8 L244.9,244.1 L246.0,243.4 L247.0,242.7 L248.0,242.0 L249.0,241.3 L250.0,240.6 L251.1,239.8 L252.1,239.1 L253.1,238.4 L254.1,237.7 L255.2,237.0 L256.2,236.2 L257.2,235.5 L258.2,234.7 L259.2,234.0 L260.2,233.2 L261.2,232.4 L262.1,231.6 L263.0,230.8 L263.9,229.9 L264.8,229.1 L265.7,228.2 L266.5,227.2 L267.2,226.2 L268.0,225.2 L268.7,224.2 L269.4,223.2 L270.1,222.2 L270.7,221.1 L271.4,220.1 L272.0,219.0 L272.7,217.9 L273.3,216.8 L273.9,215.8 L274.6,214.7 L275.2,213.6 L275.8,212.5 L276.4,211.4 L277.0,210.3 L277.6,209.2 L278.2,208.1 L278.9,207.1 L279.5,206.0 L280.1,204.9 L280.7,203.8 L281.3,202.7 L281.9,201.6 L282.4,200.4 L282.9,199.3 L283.4,198.2 L283.8,197.0 L284.2,195.8 L284.5,194.7 L284.9,193.5 L285.3,192.3 L285.6,191.1 L285.9,189.9 L286.2,188.7 L286.5,187.5 L286.8,186.2 L287.2,185.0 L287.5,183.8 L287.8,182.6 L288.1,181.4 L288.4,180.2 L288.7,179.0 L289.1,177.8 L289.4,176.6 L289.8,175.4 L290.2,174.2 L290.5,173.0 L290.9,171.8 L291.3,170.6 L291.7,169.4 L292.0,168.2 L292.4,167.1 L292.7,165.9 L293.1,164.7 L293.4,163.5 L293.8,162.3 L294.1,161.1 L294.5,159.9 L294.8,158.7 L295.1,157.5 L295.5,156.3 L295.8,155.1 L296.1,153.9 L296.4,152.7 L296.7,151.4 L297.0,150.2 L297.3,149.0 L297.6,147.8 L297.9,146.6 L298.2,145.4 L298.5,144.2 L298.7,143.0 L299.0,141.7 L299.2,140.5 L299.5,139.3 L299.8,138.1 L300.0,136.9 L300.3,135.6 L300.5,134.4 L300.8,133.2 L301.0,132.0 L301.3,130.8 L301.5,129.5 L301.7,128.3 L302.0,127.1 L302.2,125.9 L302.4,124.6 L302.7,123.4 L302.9,122.2 L303.1,121.0 L303.3,119.7 L303.5,118.5 L303.8,117.3 L304.0,116.0 L304.2,114.8 L304.4,113.6 L304.6,112.4 L304.8,111.1 L305.0,109.9 L305.2,108.7 L305.3,107.4 L305.5,106.2 L305.7,105.0 L305.9,103.7 L306.1,102.5 L306.3,101.3 L306.5,100.0 L306.7,98.8 L306.9,97.6 L307.1,96.4 L307.3,95.1 L307.5,93.9 L307.7,92.7 L307.8,91.4 L308.0,90.2 L308.2,89.0 L308.4,87.7 L308.5,86.5 L308.7,85.3 L308.9,84.0 L309.0,82.8 L309.2,81.5 L309.3,80.3 L309.5,79.1 L309.7,77.8 L309.8,76.6 L310.0,75.4 L310.1,74.1 L310.3,72.9 L310.5,71.7 L310.7,70.4 L310.9,69.2 L311.0,68.0 L311.2,66.7 L311.4,65.5 L311.6,64.3 L311.8,63.0 L312.0,61.8 L312.2,60.6 L312.3,59.3 L312.5,58.1 L312.7,56.9 L312.9,55.6 L313.1,54.4 L313.3,53.2 L313.4,51.9 L313.6,50.7 L313.8,49.5 L314.0,48.3 L314.2,47.0 L314.4,45.8 L314.6,44.6 L314.9,43.4 L315.3,42.2 L315.8,41.0 L316.4,39.9 L317.2,38.8 L318.2,38.3 L319.0,39.3 L319.4,40.5 L319.7,41.7 L319.8,43.0 L319.9,44.3 L320.0,45.5 L320.1,46.8 L320.2,48.0 L320.2,49.2 L320.2,50.5 L320.3,51.7 L320.3,53.0 L320.4,54.2 L320.4,55.5 L320.5,56.7 L320.5,58.0 L320.6,59.2 L320.7,60.4 L320.8,61.7 L321.0,62.9 L321.1,64.2 L321.2,65.4 L321.4,66.6 L321.5,67.9 L321.6,69.1 L321.7,70.4 L321.8,71.6 L321.9,72.9 L322.0,74.1 L322.1,75.3 L322.2,76.6 L322.3,77.8 L322.4,79.1 L322.5,80.3 L322.6,81.6 L322.7,82.8 L322.8,84.0 L322.8,85.3 L322.9,86.5 L323.0,87.8 L323.0,89.0 L323.1,90.3 L323.1,91.5 L323.1,92.8 L323.2,94.0 L323.2,95.2 L323.2,96.5 L323.3,97.7 L323.3,99.0 L323.4,100.2 L323.4,101.5 L323.4,102.7 L323.5,104.0 L323.5,105.2 L323.6,106.5 L323.6,107.7 L323.7,108.9 L323.7,110.2 L323.8,111.4 L323.8,112.7 L323.9,113.9 L323.9,115.2 L324.0,116.4 L324.0,117.7 L324.0,118.9 L324.1,120.2 L324.1,121.4 L324.2,122.6 L324.2,123.9 L324.2,125.1 L324.3,126.4 L324.3,127.6 L324.3,128.9 L324.3,130.1 L324.4,131.4 L324.4,132.6 L324.4,133.9 L324.4,135.1 L324.4,136.3 L324.4,137.6 L324.4,138.8 L324.4,140.1 L324.5,141.3 L324.5,142.6 L324.5,143.8 L324.5,145.1 L324.5,146.3 L324.5,147.6 L324.6,148.8 L324.6,150.1 L324.6,151.3 L324.6,152.5 L324.7,153.8 L324.7,155.0 L324.8,156.3 L324.9,157.5 L325.0,158.8 L325.1,160.0 L325.1,161.3 L325.2,162.5 L325.4,163.7 L325.5,165.0 L325.6,166.2 L325.7,167.5 L325.8,168.7 L325.9,169.9 L326.1,171.2 L326.2,172.4 L326.4,173.7 L326.5,174.9 L326.7,176.1 L326.9,177.4 L327.0,178.6 L327.2,179.8 L327.4,181.1 L327.6,182.3 L327.8,183.5 L328.0,184.8 L328.2,186.0 L328.3,187.2 L328.5,188.5 L328.7,189.7 L328.9,190.9 L329.2,192.2 L329.4,193.4 L329.6,194.6 L329.8,195.8 L330.1,197.0 L330.4,198.3 L330.6,199.5 L330.9,200.7 L331.2,201.9 L331.5,203.1 L331.9,204.3 L332.2,205.5 L332.6,206.7 L333.0,207.9 L333.4,209.1 L333.8,210.2 L334.2,211.4 L334.7,212.5 L335.2,213.7 L335.8,214.8 L336.3,215.9 L336.9,217.0 L337.6,218.1 L338.2,219.2 L338.8,220.3 L339.4,221.3 L340.1,222.4 L340.7,223.5 L341.3,224.6 L341.9,225.7 L342.5,226.8 L343.2,227.9 L343.8,228.9 L344.5,230.0 L345.2,231.1 L345.8,232.1 L346.6,233.1 L347.3,234.1 L348.1,235.0 L348.9,235.9 L349.8,236.8 L350.7,237.7 L351.6,238.5 L352.5,239.4 L353.5,240.2 L354.4,241.0 L355.4,241.8 L356.3,242.6 L357.3,243.4 L358.2,244.3 L359.2,245.1 L360.2,245.9 L361.1,246.6 L362.1,247.4 L363.1,248.1 L364.2,248.8 L365.2,249.5 L366.2,250.2 L367.3,250.9 L368.4,251.5 L369.4,252.2 L370.5,252.9 L371.6,253.5 L372.7,254.1 L373.8,254.7 L374.9,255.3 L376.0,255.8 L377.1,256.4 L378.2,256.9 L379.4,257.4 L380.5,257.8 L381.7,258.3 L382.8,258.7 L384.0,259.2 L385.1,259.6 L386.3,260.0 L387.5,260.4 L388.7,260.8 L389.9,261.1 L391.1,261.5 L392.3,261.8 L393.5,262.1 L394.7,262.5 L396.0,262.7 L397.2,263.0" stroke="#008000" stroke-dasharray="2.8 2 2.8 6.3"/>
</g>
<g stroke="#222" stroke-width="1" fill="none">
<rect x="55.5" y="35.5" width="341.7" height="237.64999999999998"/>
<path d="M69.17,273.15v-2.4M69.17,35.5v2.4M82.84,273.15v-2.4M82.84,35.5v2.4M96.50,273.15v-2.4M96.50,35.5v2.4M110.17,273.15v-2.4M110.17,35.5v2.4M123.84,273.15v-4.6M123.84,35.5v4.6M137.51,273.15v-2.4M137.51,35.5v2.4M151.18,273.15v-2.4M151.18,35.5v2.4M164.84,273.15v-2.4M164.84,35.5v2.4M178.51,273.15v-2.4M178.51,35.5v2.4M192.18,273.15v-4.6M192.18,35.5v4.6M205.85,273.15v-2.4M205.85,35.5v2.4M219.52,273.15v-2.4M219.52,35.5v2.4M233.18,273.15v-2.4M233.18,35.5v2.4M246.85,273.15v-2.4M246.85,35.5v2.4M260.52,273.15v-4.6M260.52,35.5v4.6M274.19,273.15v-2.4M274.19,35.5v2.4M287.86,273.15v-2.4M287.86,35.5v2.4M301.52,273.15v-2.4M301.52,35.5v2.4M315.19,273.15v-2.4M315.19,35.5v2.4M328.86,273.15v-4.6M328.86,35.5v4.6M342.53,273.15v-2.4M342.53,35.5v2.4M356.20,273.15v-2.4M356.20,35.5v2.4M369.86,273.15v-2.4M369.86,35.5v2.4M383.53,273.15v-2.4M383.53,35.5v2.4M55.5,239.20h4.5M397.2,239.20h-4.5M55.5,205.25h4.5M397.2,205.25h-4.5M55.5,171.30h4.5M397.2,171.30h-4.5M55.5,137.35h4.5M397.2,137.35h-4.5M55.5,103.40h4.5M397.2,103.40h-4.5M55.5,69.45h4.5M397.2,69.45h-4.5"/>
</g>
<g fill="none" stroke-width="1.5">
<path d="M155.2,49.0H190.2" stroke="#8b0000"/>
<path d="M155.2,67.9H190.2" stroke="#8b0000" stroke-dasharray="3.7 3.6 1 3.5"/>
<path d="M155.2,87.3H190.2" stroke="#00008b" stroke-dasharray="5.2 1.8"/>
<path d="M155.2,106.8H190.2" stroke="#00008b" stroke-dasharray="7.3 2.4 1 2.3"/>
<path d="M155.2,125.9H190.2" stroke="#008000" stroke-dasharray="1.4 1.57"/>
<path d="M155.2,145.1H190.2" stroke="#008000" stroke-dasharray="2.8 2 2.8 6.3"/>
</g>
<g filter="url(#gf)">
<g class="ls" font-size="16.5" fill="#333">
 <text x="48.2" y="278.9" text-anchor="end">0</text>
 <text x="48.2" y="245.0" text-anchor="end">5</text>
 <text x="48.2" y="211.0" text-anchor="end">10</text>
 <text x="48.2" y="177.1" text-anchor="end">15</text>
 <text x="48.2" y="143.1" text-anchor="end">20</text>
 <text x="48.2" y="109.2" text-anchor="end">25</text>
 <text x="48.2" y="75.3" text-anchor="end">30</text>
 <text x="48.2" y="41.3" text-anchor="end">35</text>
<text x="55.5" y="292" text-anchor="middle">0.6</text>
<text x="123.8" y="292" text-anchor="middle">0.7</text>
<text x="192.2" y="292" text-anchor="middle">0.8</text>
<text x="260.5" y="292" text-anchor="middle">0.9</text>
<text x="328.9" y="292" text-anchor="middle">1.0</text>
<text x="397.2" y="292" text-anchor="middle">1.1</text>
</g>
<g class="ls" font-size="12.2" fill="#333">
<text x="75.6" y="51.6" font-style="italic">δ</text>
<text x="81.6" y="54.0" font-size="8.2" textLength="8.6" lengthAdjust="spacingAndGlyphs">12</text>
<text x="94.1" y="51.6" textLength="9.8" lengthAdjust="spacingAndGlyphs">=</text>
<text x="107.4" y="51.6" textLength="11.8" lengthAdjust="spacingAndGlyphs">90</text>
<circle cx="121.6" cy="44.9" r="1.45" fill="none" stroke="#333" stroke-width="0.6"/>
<text x="123.8" y="51.6">,</text>
<text x="132.8" y="51.6" textLength="14.4" lengthAdjust="spacingAndGlyphs">(a)</text>
<text x="75.6" y="70.5" font-style="italic">δ</text>
<text x="81.6" y="72.9" font-size="8.2" textLength="8.6" lengthAdjust="spacingAndGlyphs">12</text>
<text x="94.1" y="70.5" textLength="9.8" lengthAdjust="spacingAndGlyphs">=</text>
<text x="107.4" y="70.5" textLength="11.8" lengthAdjust="spacingAndGlyphs">90</text>
<circle cx="121.6" cy="63.8" r="1.45" fill="none" stroke="#333" stroke-width="0.6"/>
<text x="123.8" y="70.5">,</text>
<text x="132.8" y="70.5" textLength="14.4" lengthAdjust="spacingAndGlyphs">(b)</text>
<text x="68.7" y="89.9" font-style="italic">δ</text>
<text x="74.7" y="92.3" font-size="8.2" textLength="8.6" lengthAdjust="spacingAndGlyphs">12</text>
<text x="87.2" y="89.9" textLength="9.8" lengthAdjust="spacingAndGlyphs">=</text>
<text x="100.5" y="89.9" textLength="18.7" lengthAdjust="spacingAndGlyphs">110</text>
<circle cx="121.6" cy="83.2" r="1.45" fill="none" stroke="#333" stroke-width="0.6"/>
<text x="123.8" y="89.9">,</text>
<text x="132.8" y="89.9" textLength="14.4" lengthAdjust="spacingAndGlyphs">(a)</text>
<text x="68.7" y="109.4" font-style="italic">δ</text>
<text x="74.7" y="111.8" font-size="8.2" textLength="8.6" lengthAdjust="spacingAndGlyphs">12</text>
<text x="87.2" y="109.4" textLength="9.8" lengthAdjust="spacingAndGlyphs">=</text>
<text x="100.5" y="109.4" textLength="18.7" lengthAdjust="spacingAndGlyphs">110</text>
<circle cx="121.6" cy="102.7" r="1.45" fill="none" stroke="#333" stroke-width="0.6"/>
<text x="123.8" y="109.4">,</text>
<text x="132.8" y="109.4" textLength="14.4" lengthAdjust="spacingAndGlyphs">(b)</text>
<text x="68.7" y="128.5" font-style="italic">δ</text>
<text x="74.7" y="130.9" font-size="8.2" textLength="8.6" lengthAdjust="spacingAndGlyphs">12</text>
<text x="87.2" y="128.5" textLength="9.8" lengthAdjust="spacingAndGlyphs">=</text>
<text x="100.5" y="128.5" textLength="18.7" lengthAdjust="spacingAndGlyphs">125</text>
<circle cx="121.6" cy="121.8" r="1.45" fill="none" stroke="#333" stroke-width="0.6"/>
<text x="123.8" y="128.5">,</text>
<text x="132.8" y="128.5" textLength="14.4" lengthAdjust="spacingAndGlyphs">(a)</text>
<text x="68.7" y="147.7" font-style="italic">δ</text>
<text x="74.7" y="150.1" font-size="8.2" textLength="8.6" lengthAdjust="spacingAndGlyphs">12</text>
<text x="87.2" y="147.7" textLength="9.8" lengthAdjust="spacingAndGlyphs">=</text>
<text x="100.5" y="147.7" textLength="18.7" lengthAdjust="spacingAndGlyphs">125</text>
<circle cx="121.6" cy="141.0" r="1.45" fill="none" stroke="#333" stroke-width="0.6"/>
<text x="123.8" y="147.7">,</text>
<text x="132.8" y="147.7" textLength="14.4" lengthAdjust="spacingAndGlyphs">(b)</text>
</g>
<g class="ls" font-size="16" fill="#333">
<g fill="none" stroke="#333" stroke-width="0.9">
<path d="M195.4,307.5l1.7,-1.2"/><path d="M196.9,306.3l3.5,7.6" stroke-width="1.5"/><path d="M200.4,314.3l7.3,-15.9h8.2" stroke-width="0.8"/>
<path d="M220.6,298.3h-2.2v16.8h2.2M253.8,298.3h2.2v16.8h-2.2" stroke-width="0.9"/>
</g>
<text x="208.6" y="310.8" font-style="italic" textLength="6.4" lengthAdjust="spacingAndGlyphs">s</text>
<text x="220.9" y="310.8" textLength="32.2" lengthAdjust="spacingAndGlyphs">GeV</text>
<g transform="translate(15.5,212.7) rotate(-90)">
<text x="-0.3" y="0">d</text>
<text x="8.2" y="0" textLength="9.6" lengthAdjust="spacingAndGlyphs">Γ</text>
<text x="27.2" y="0">d</text>
<g fill="none" stroke="#333" stroke-width="0.9">
<path d="M20,3.8l6.1,-16.4" stroke-width="0.8"/>
<path d="M37.6,-3.6l1.7,-1.2"/><path d="M39.2,-4.7l3.4,7.6" stroke-width="1.5"/><path d="M42.6,3l7.3,-16h8.4" stroke-width="0.8"/>
<path d="M68.9,-13.4h-2.2v17h2.2M107.5,-13.4h2.2v17h-2.2" stroke-width="0.9"/>
</g>
<text x="51.3" y="0" font-style="italic" textLength="6.4" lengthAdjust="spacingAndGlyphs">s</text>
<text x="69.3" y="0" textLength="15.8" lengthAdjust="spacingAndGlyphs">10</text>
<text x="86" y="-6.7" font-size="11.3" textLength="21" lengthAdjust="spacingAndGlyphs">−17</text>
</g>
</g>
</g>
</svg>
</body></html>
